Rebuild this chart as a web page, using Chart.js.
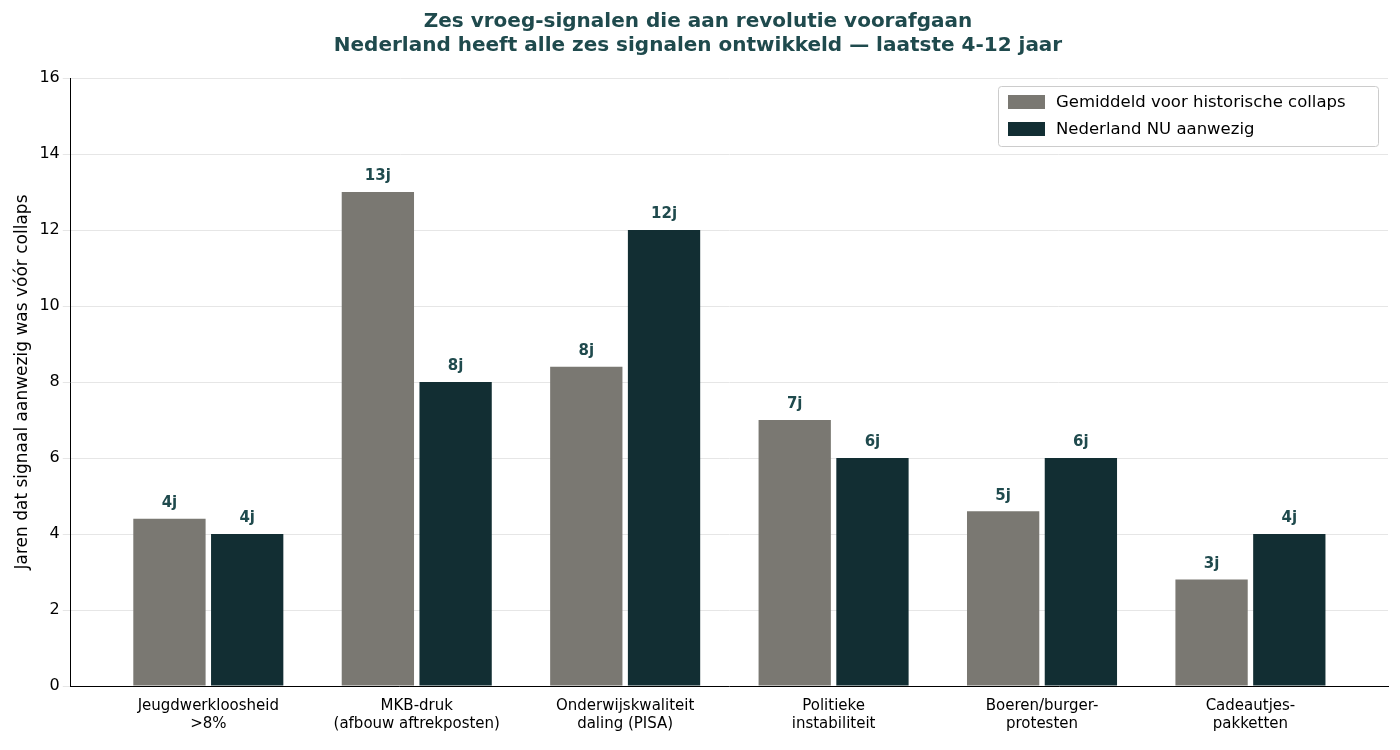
<!DOCTYPE html>
<html>
<head>
<meta charset="utf-8">
<script src="https://cdn.jsdelivr.net/npm/chart.js@4"></script>
<style>
  body{margin:0;background:#fff;}
  #wrap{width:1400px;height:750px;}
</style>
</head>
<body>
<div id="wrap"><canvas id="c" width="1400" height="750"></canvas></div>
<script>
const categories = [['Jeugdwerkloosheid','>8%'],['MKB-druk','(afbouw aftrekposten)'],['Onderwijskwaliteit','daling (PISA)'],['Politieke','instabiliteit'],['Boeren/burger-','protesten'],['Cadeautjes-','pakketten']];
const historisch = [4.4, 13, 8.4, 7, 4.6, 2.8];
const nederland = [4, 8, 12, 6, 6, 4];
const seriesNames = ['Gemiddeld voor historische collaps','Nederland NU aanwezig'];
const colors = ['#7a7872','#122e33'];

Chart.defaults.font.family = 'DejaVu Sans';
Chart.defaults.color = '#000';

const labelPlugin = {
  id:'labels',
  afterDatasetsDraw(chart){
    const ctx = chart.ctx;
    ctx.save();
    ctx.font = 'bold 15px DejaVu Sans';
    ctx.fillStyle = '#1f4a4d';
    ctx.textAlign = 'center';
    ctx.textBaseline = 'bottom';
    chart.data.datasets.forEach((ds,i)=>{
      chart.getDatasetMeta(i).data.forEach((bar,j)=>{
        ctx.fillText(Math.round(ds.data[j])+'j', bar.x, bar.y-8);
      });
    });
    ctx.restore();
  }
};
const legendPlugin = {
  id:'boxlegend',
  afterDraw(chart){
    const ctx = chart.ctx, a = chart.chartArea;
    const w = 380, h = 60, x = a.right - w - 10, y = a.top + 8;
    ctx.save();
    ctx.fillStyle = 'rgba(255,255,255,0.85)';
    ctx.strokeStyle = '#cccccc';
    ctx.lineWidth = 1;
    ctx.beginPath(); ctx.roundRect(x+0.5,y+0.5,w,h,3); ctx.fill(); ctx.stroke();
    ctx.font = '16.5px DejaVu Sans';
    ctx.textBaseline = 'middle';
    seriesNames.forEach((n,i)=>{
      const yy = y + 16 + i*27;
      ctx.fillStyle = colors[i];
      ctx.fillRect(x+10, yy-7, 37, 14);
      ctx.fillStyle = '#000';
      ctx.fillText(n, x+58, yy+1);
    });
    ctx.restore();
  }
};

new Chart(document.getElementById('c'), {
  type:'bar',
  data:{
    labels: categories,
    datasets:[
      {label:seriesNames[0], data:historisch, backgroundColor:colors[0], categoryPercentage:0.746, barPercentage:0.93},
      {label:seriesNames[1], data:nederland, backgroundColor:colors[1], categoryPercentage:0.746, barPercentage:0.93}
    ]
  },
  options:{
    responsive:false, animation:false,
    layout:{padding:{left:8,right:12,top:0,bottom:14}},
    plugins:{
      legend:{display:false},
      tooltip:{enabled:false},
      title:{display:true, text:['Zes vroeg-signalen die aan revolutie voorafgaan','Nederland heeft alle zes signalen ontwikkeld — laatste 4-12 jaar'],
        color:'#1f4a4d', font:{size:20, weight:'bold'}, padding:{top:10,bottom:20}, lineHeight:1.3}
    },
    scales:{
      x:{grid:{display:false}, border:{color:'#000'}, ticks:{font:{size:15}, color:'#000'},
        afterUpdate(s){ s._startValue = -0.66; s._valueRange = 6.32; }},
      y:{min:0, max:16, ticks:{stepSize:2, font:{size:16}, color:'#000'},
        grid:{color:'#e6e6e6'}, border:{color:'#000'},
        title:{display:true, text:'Jaren dat signaal aanwezig was vóór collaps', font:{size:17}, color:'#000'}}
    }
  },
  plugins:[labelPlugin, legendPlugin]
});
</script>
</body>
</html>
